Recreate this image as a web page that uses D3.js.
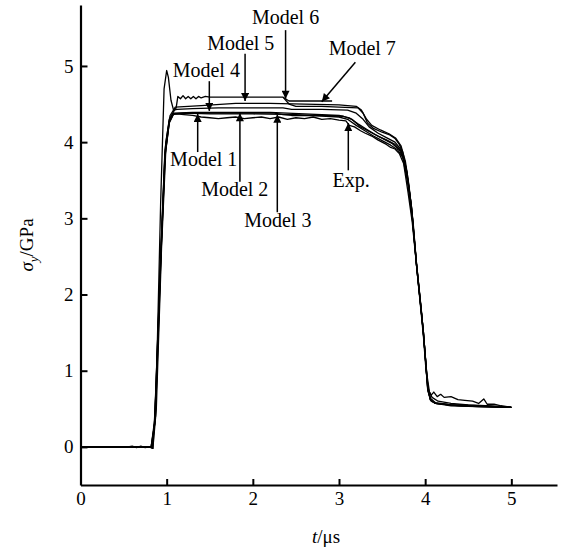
<!DOCTYPE html>
<html>
<head>
<meta charset="utf-8">
<script src="https://cdn.jsdelivr.net/npm/d3@7"></script>
<style>
    body { margin: 0; background: #fff; }
    svg { display: block; }
    text { font-family: "Liberation Serif", "DejaVu Serif", serif; fill: #000; }
</style>
</head>
<body>
<svg id="chart" width="568" height="549"></svg>
<script>

// Axis ticks
const xTicks = [0, 1, 2, 3, 4, 5];
const yTicks = [0, 1, 2, 3, 4, 5];

// Curves, [t (µs), sigma_y (GPa)]
const expData = [
    [0, 0], [0.55, 0], [0.6, 0.01], [0.65, -0.01], [0.7, 0.01], [0.75, -0.01], [0.8, 0], [0.84, -0.02],
    [0.88, 0.5], [0.94, 2.6], [0.99, 3.9], [1.03, 4.27], [1.07, 4.36], [1.12, 4.37], [1.2, 4.36], [1.3, 4.35],
    [1.4, 4.33], [1.5, 4.32], [1.6, 4.31], [1.7, 4.32], [1.8, 4.33], [1.9, 4.31], [2.0, 4.32], [2.1, 4.33],
    [2.2, 4.31], [2.3, 4.33], [2.4, 4.3], [2.5, 4.32], [2.6, 4.31], [2.7, 4.33], [2.8, 4.3], [2.9, 4.31],
    [3.0, 4.29], [3.08, 4.28], [3.12, 4.22], [3.18, 4.2], [3.25, 4.15], [3.3, 4.12], [3.38, 4.08], [3.45, 4.03],
    [3.5, 4.0], [3.55, 3.97], [3.6, 3.93], [3.65, 3.91], [3.7, 3.85], [3.75, 3.72], [3.8, 3.35], [3.85, 2.95],
    [3.9, 2.38], [3.95, 1.8], [3.98, 1.45], [4.01, 1.0], [4.04, 0.74], [4.07, 0.68], [4.1, 0.72], [4.14, 0.66],
    [4.18, 0.69], [4.22, 0.65], [4.3, 0.66], [4.38, 0.62], [4.46, 0.61], [4.55, 0.6], [4.62, 0.57], [4.68, 0.63],
    [4.72, 0.56], [4.8, 0.56], [4.88, 0.54], [4.95, 0.53], [5.0, 0.52]
];
const model1 = [
    [0, 0], [0.82, 0], [0.86, 0.3], [0.93, 2.4], [0.98, 3.8], [1.03, 4.25], [1.08, 4.37], [1.2, 4.38],
    [1.5, 4.37], [2.0, 4.37], [2.5, 4.36], [3.0, 4.33], [3.1, 4.3], [3.2, 4.22], [3.3, 4.15], [3.4, 4.08],
    [3.5, 4.02], [3.6, 3.96], [3.68, 3.9], [3.74, 3.8], [3.8, 3.45], [3.85, 3.0], [3.9, 2.4], [3.95, 1.85],
    [3.99, 1.35], [4.02, 0.95], [4.05, 0.72], [4.08, 0.65], [4.15, 0.6], [4.3, 0.57], [4.5, 0.55], [4.7, 0.54],
    [5.0, 0.52]
];
const model2 = [
    [0, 0], [0.83, 0], [0.87, 0.4], [0.93, 2.5], [0.98, 3.85], [1.03, 4.28], [1.08, 4.38], [1.3, 4.39],
    [1.8, 4.39], [2.2, 4.39], [2.6, 4.37], [3.0, 4.35], [3.12, 4.32], [3.22, 4.24], [3.32, 4.17], [3.42, 4.1],
    [3.52, 4.04], [3.62, 3.98], [3.7, 3.9], [3.76, 3.76], [3.81, 3.42], [3.86, 2.95], [3.9, 2.4], [3.96, 1.75],
    [4.0, 1.2], [4.03, 0.8], [4.06, 0.64], [4.12, 0.58], [4.3, 0.55], [4.6, 0.54], [5.0, 0.52]
];
const model3 = [
    [0, 0], [0.82, 0], [0.86, 0.35], [0.93, 2.45], [0.98, 3.82], [1.03, 4.26], [1.08, 4.37], [1.4, 4.38],
    [1.9, 4.38], [2.25, 4.38], [2.35, 4.36], [2.45, 4.35], [2.8, 4.35], [3.05, 4.34], [3.15, 4.3], [3.25, 4.2],
    [3.35, 4.14], [3.45, 4.08], [3.55, 4.03], [3.65, 3.97], [3.72, 3.88], [3.78, 3.65], [3.84, 3.16], [3.9, 2.38],
    [3.98, 1.5], [4.03, 0.76], [4.06, 0.62], [4.12, 0.57], [4.3, 0.55], [4.6, 0.53], [5.0, 0.52]
];
const model4 = [
    [0, 0], [0.8, 0], [0.84, -0.02], [0.88, 0.8], [0.93, 3.2], [0.97, 4.7], [1.0, 4.94], [1.02, 4.85],
    [1.05, 4.55], [1.08, 4.42], [1.12, 4.43], [1.3, 4.44], [1.6, 4.45], [2.0, 4.45], [2.35, 4.45], [2.45, 4.43],
    [2.8, 4.43], [3.1, 4.42], [3.2, 4.38], [3.28, 4.3], [3.35, 4.2], [3.45, 4.12], [3.55, 4.06], [3.65, 4.0],
    [3.72, 3.9], [3.78, 3.65], [3.84, 3.16], [3.9, 2.38], [3.98, 1.5], [4.03, 0.78], [4.06, 0.62], [4.12, 0.57],
    [4.3, 0.55], [4.6, 0.54], [5.0, 0.52]
];
const model5 = [
    [0, 0], [0.83, 0], [0.87, 0.4], [0.94, 2.7], [0.99, 4.0], [1.04, 4.35], [1.1, 4.46], [1.4, 4.48],
    [1.8, 4.51], [2.2, 4.51], [2.6, 4.5], [3.0, 4.49], [3.2, 4.47], [3.26, 4.42], [3.32, 4.3], [3.38, 4.22],
    [3.48, 4.16], [3.58, 4.11], [3.66, 4.05], [3.72, 3.95], [3.77, 3.75], [3.81, 3.45], [3.85, 3.05], [3.9, 2.4],
    [3.98, 1.5], [4.03, 0.74], [4.07, 0.6], [4.12, 0.57], [4.4, 0.54], [5.0, 0.52]
];
const model6 = [
    [0, 0], [0.82, 0], [0.86, 0.3], [0.93, 2.5], [0.98, 3.9], [1.03, 4.3], [1.08, 4.4], [1.11, 4.45],
    [1.13, 4.6], [1.16, 4.57], [1.19, 4.61], [1.22, 4.57], [1.25, 4.6], [1.28, 4.57], [1.31, 4.6], [1.34, 4.57],
    [1.37, 4.6], [1.4, 4.58], [1.45, 4.6], [1.5, 4.59], [1.8, 4.59], [2.1, 4.59], [2.35, 4.59], [2.42, 4.5],
    [2.5, 4.47], [2.8, 4.47], [3.0, 4.46], [3.22, 4.45], [3.28, 4.38], [3.33, 4.25], [3.4, 4.18], [3.5, 4.13],
    [3.58, 4.1], [3.65, 4.05], [3.7, 3.97], [3.74, 3.87], [3.79, 3.6], [3.84, 3.16], [3.9, 2.38], [3.98, 1.5],
    [4.03, 0.76], [4.06, 0.62], [4.12, 0.57], [4.3, 0.54], [4.6, 0.53], [5.0, 0.52]
];
const model7 = [
    [2.35, 4.59], [2.42, 4.54], [2.6, 4.54], [2.92, 4.54]
];
const curves = [expData, model1, model2, model3, model4, model5, model6, model7];

// Labels: text anchor (t, v), arrow start and arrow tip
const labelText = ["Model 6", "Model 5", "Model 4", "Model 7", "Model 1", "Model 2", "Model 3", "Exp."];
const labelPos = [[2.38, 5.55], [1.86, 5.21], [1.46, 4.85], [3.27, 5.14], [1.43, 3.69], [1.79, 3.29], [2.29, 2.88], [3.14, 3.41]];
const arrowFrom = [[2.38, 5.47], [1.91, 5.16], [1.495, 4.8], [3.19, 5.05], [1.36, 3.87], [1.85, 3.48], [2.284, 3.08], [3.108, 3.63]];
const arrowTo = [[2.38, 4.57], [1.91, 4.54], [1.495, 4.41], [2.8, 4.53], [1.36, 4.37], [1.85, 4.38], [2.284, 4.36], [3.108, 4.25]];

const svg = d3.select("#chart");

const x = d3.scaleLinear().domain([0, 5.53]).range([80.5, 557]);
const y = d3.scaleLinear().domain([-0.5, 5.8]).range([485, 5]);

// Arrow head
svg.append("defs").append("marker")
    .attr("id", "head")
    .attr("viewBox", "0 0 10 10")
    .attr("refX", 10)
    .attr("refY", 5)
    .attr("markerWidth", 10)
    .attr("markerHeight", 8)
    .attr("markerUnits", "userSpaceOnUse")
    .attr("orient", "auto")
    .append("path")
        .attr("d", "M0,0L10,5L0,10Z")
        .attr("fill", "#000");

// Curves
const line = d3.line().x(d => x(d[0])).y(d => y(d[1]));
svg.append("g")
    .selectAll("path")
    .data(curves)
    .join("path")
        .attr("d", line)
        .attr("fill", "none")
        .attr("stroke", "#000")
        .attr("stroke-width", 1.3)
        .attr("stroke-linejoin", "round");

// Axes (ticks point inward)
const xAxis = svg.append("g")
    .attr("transform", `translate(0,${y(-0.5)})`)
    .call(d3.axisBottom(x).tickValues(xTicks).tickFormat(d3.format("d"))
        .tickSizeInner(-6).tickSizeOuter(0).tickPadding(10));
const yAxis = svg.append("g")
    .attr("transform", `translate(${x(0)},0)`)
    .call(d3.axisLeft(y).tickValues(yTicks).tickFormat(d3.format("d"))
        .tickSizeInner(-7).tickSizeOuter(0).tickPadding(8));

[xAxis, yAxis].forEach(g => {
    g.select(".domain").attr("stroke", "#000").attr("stroke-width", 2.2);
    g.selectAll(".tick line").attr("stroke", "#000").attr("stroke-width", 2);
    g.selectAll(".tick text")
        .attr("font-family", "'Liberation Serif', serif")
        .attr("font-size", 19)
        .attr("fill", "#000");
});
xAxis.selectAll(".tick text").attr("dy", "0.5em");
yAxis.selectAll(".tick text").attr("x", -7);

// Axis titles
svg.append("text")
    .attr("x", x(2.85))
    .attr("y", 543)
    .attr("text-anchor", "middle")
    .attr("font-size", 19)
    .call(t => t.append("tspan").attr("font-style", "italic").text("t"))
    .call(t => t.append("tspan").text("/μs"));

svg.append("text")
    .attr("transform", `translate(33,${y(2.65)}) rotate(-90)`)
    .attr("text-anchor", "middle")
    .attr("font-size", 19)
    .call(t => t.append("tspan").attr("font-style", "italic").text("σ"))
    .call(t => t.append("tspan").attr("font-style", "italic").attr("font-size", 13).attr("dy", 5).text("y"))
    .call(t => t.append("tspan").attr("dy", -5).text("/GPa"));

// Annotations
const notes = svg.append("g");
notes.selectAll("line")
    .data(labelText)
    .join("line")
        .attr("x1", (d, i) => x(arrowFrom[i][0]))
        .attr("y1", (d, i) => y(arrowFrom[i][1]))
        .attr("x2", (d, i) => x(arrowTo[i][0]))
        .attr("y2", (d, i) => y(arrowTo[i][1]))
        .attr("stroke", "#000")
        .attr("stroke-width", 1.5)
        .attr("marker-end", "url(#head)");
notes.selectAll("text")
    .data(labelText)
    .join("text")
        .attr("x", (d, i) => x(labelPos[i][0]))
        .attr("y", (d, i) => y(labelPos[i][1]))
        .attr("text-anchor", "middle")
        .attr("font-size", 20)
        .text(d => d);

</script>
</body>
</html>
